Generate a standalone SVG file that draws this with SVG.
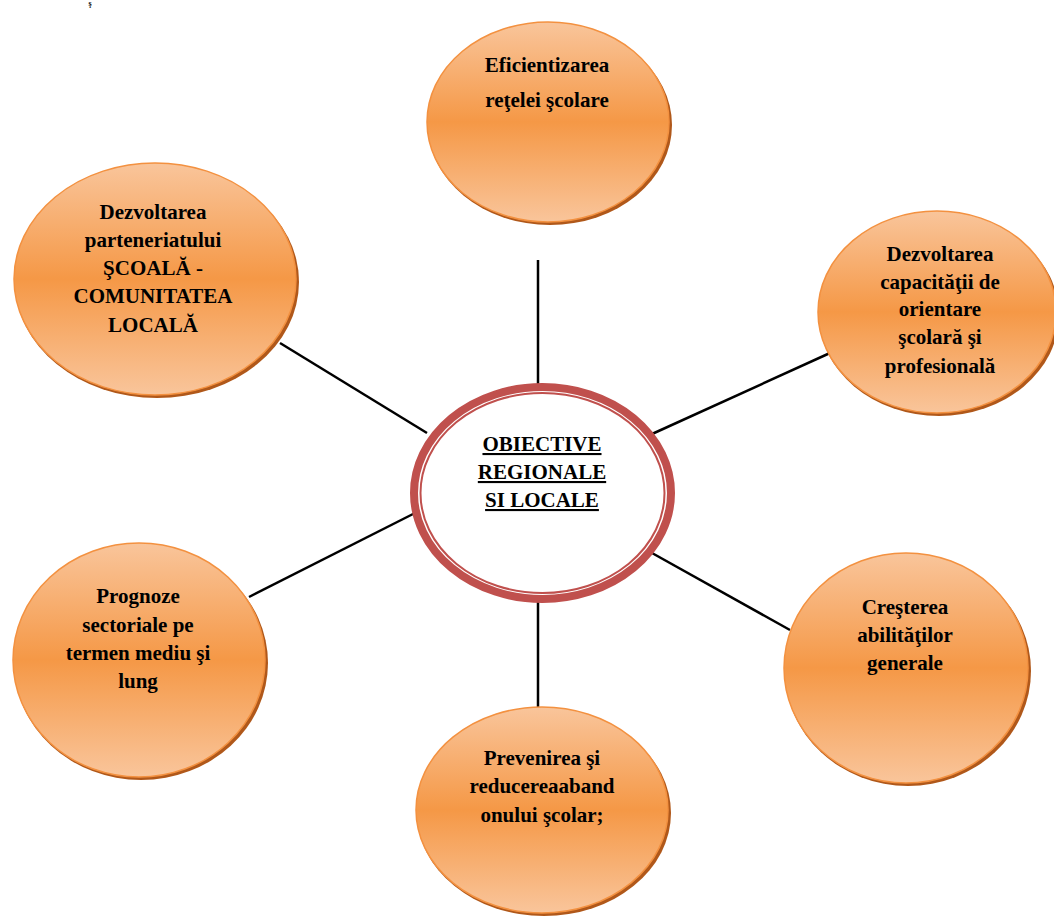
<svg xmlns="http://www.w3.org/2000/svg" width="1054" height="917" viewBox="0 0 1054 917">
<defs>
<linearGradient id="og" x1="0" y1="0" x2="0" y2="1">
<stop offset="0" stop-color="#F9C59B"/>
<stop offset="0.5" stop-color="#F59846"/>
<stop offset="1" stop-color="#F9C59B"/>
</linearGradient>
</defs>
<style>
.sh{fill:#B0581A}
.nd{fill:url(#og);stroke:#F39140;stroke-width:1.5}
.t{font-family:"Liberation Serif","Times New Roman",serif;font-weight:bold;font-size:21px;fill:#000;text-anchor:middle}
.u{text-decoration:underline}
.ln{stroke:#000;stroke-width:2.5;fill:none}
</style>
<rect width="1054" height="917" fill="#fff"/>
<text x="90" y="6" font-family="Liberation Serif, serif" font-weight="bold" font-size="8" text-anchor="middle">ş</text>
<g id="connectors">
<line class="ln" x1="538" y1="260" x2="538" y2="388"/>
<line class="ln" x1="280" y1="343" x2="427" y2="433"/>
<line class="ln" x1="652" y1="434" x2="830" y2="353"/>
<line class="ln" x1="249" y1="597" x2="415" y2="513"/>
<line class="ln" x1="652" y1="553" x2="790" y2="630"/>
<line class="ln" x1="538" y1="597" x2="538" y2="707"/>
</g>
<g id="center">
<ellipse cx="542.5" cy="493" rx="128.5" ry="106" fill="#fff" stroke="#C0504D" stroke-width="8"/>
<ellipse cx="542.5" cy="493" rx="122" ry="100" fill="none" stroke="#C0504D" stroke-width="2"/>
<text class="t u" x="542" y="451">OBIECTIVE</text>
<text class="t u" x="542" y="479">REGIONALE</text>
<text class="t u" x="542" y="507">SI LOCALE</text>
</g>
<g id="n-top">
<ellipse class="sh" cx="550" cy="125" rx="122" ry="100"/>
<ellipse class="nd" cx="548" cy="122" rx="121" ry="100"/>
<text class="t" x="547" y="72">Eficientizarea</text>
<text class="t" x="547" y="107">reţelei şcolare</text>
</g>
<g id="n-topleft">
<ellipse class="sh" cx="157" cy="282" rx="142" ry="116"/>
<ellipse class="nd" cx="155" cy="279" rx="141" ry="116"/>
<text class="t" x="153" y="219">Dezvoltarea</text>
<text class="t" x="153" y="247">parteneriatului</text>
<text class="t" x="153" y="275">ŞCOALĂ -</text>
<text class="t" x="153" y="303">COMUNITATEA</text>
<text class="t" x="153" y="332">LOCALĂ</text>
</g>
<g id="n-topright">
<ellipse class="sh" cx="939" cy="315" rx="120" ry="101"/>
<ellipse class="nd" cx="937" cy="312" rx="119" ry="101"/>
<text class="t" x="940" y="261">Dezvoltarea</text>
<text class="t" x="940" y="289">capacităţii de</text>
<text class="t" x="940" y="316">orientare</text>
<text class="t" x="940" y="344">şcolară şi</text>
<text class="t" x="940" y="373">profesională</text>
</g>
<g id="n-bottomleft">
<ellipse class="sh" cx="141" cy="663" rx="127" ry="117"/>
<ellipse class="nd" cx="139" cy="660" rx="126" ry="117"/>
<text class="t" x="138" y="603">Prognoze</text>
<text class="t" x="138" y="632">sectoriale pe</text>
<text class="t" x="138" y="660">termen mediu şi</text>
<text class="t" x="138" y="688">lung</text>
</g>
<g id="n-bottomright">
<ellipse class="sh" cx="908" cy="671" rx="123" ry="115"/>
<ellipse class="nd" cx="906" cy="668" rx="122" ry="115"/>
<text class="t" x="905" y="614">Creşterea</text>
<text class="t" x="905" y="642">abilităţilor</text>
<text class="t" x="905" y="670">generale</text>
</g>
<g id="n-bottom">
<ellipse class="sh" cx="544" cy="813" rx="127" ry="103"/>
<ellipse class="nd" cx="542" cy="810" rx="126" ry="103"/>
<text class="t" x="542" y="765">Prevenirea şi</text>
<text class="t" x="542" y="793">reducereaaband</text>
<text class="t" x="542" y="822">onului şcolar;</text>
</g>
</svg>
